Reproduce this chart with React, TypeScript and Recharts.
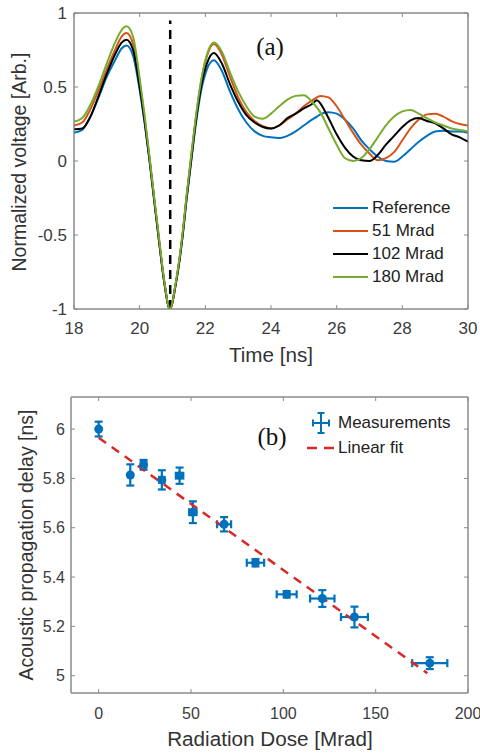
import React from 'react';
import { LineChart, Line, XAxis, YAxis, ReferenceLine, ReferenceArea, ScatterChart, Scatter, ErrorBar } from 'recharts';

const FONT = '"Liberation Sans", Arial, sans-serif';
const SERIF = '"Liberation Serif", "Times New Roman", serif';
const AXIS = '#8a8a8a';
const TICK = '#3c3c3c';

// (a) normalized waveforms
const TIME = [18, 18.25, 18.5, 18.75, 19, 19.25, 19.45, 19.6, 19.8, 20, 20.15, 20.3, 20.45, 20.6, 20.75, 20.92, 21.1, 21.3, 21.43, 21.56, 21.7, 21.86, 22.05, 22.26, 22.5, 22.75, 23, 23.25, 23.5, 23.75, 24, 24.25, 24.5, 24.75, 25, 25.25, 25.4, 25.5, 25.75, 26, 26.25, 26.5, 26.75, 27, 27.25, 27.5, 27.75, 28, 28.25, 28.5, 28.75, 29, 29.25, 29.5, 29.75, 30];
const REF = [0.19, 0.21, 0.3, 0.43, 0.57, 0.68, 0.76, 0.78, 0.71, 0.48, 0.26, 0.0, -0.28, -0.56, -0.82, -1.0, -0.83, -0.52, -0.26, -0.02, 0.23, 0.46, 0.62, 0.68, 0.61, 0.47, 0.35, 0.26, 0.2, 0.17, 0.16, 0.155, 0.17, 0.2, 0.24, 0.28, 0.3, 0.315, 0.33, 0.32, 0.28, 0.22, 0.14, 0.08, 0.03, 0.0, -0.005, 0.03, 0.08, 0.13, 0.17, 0.2, 0.205, 0.2, 0.2, 0.19];
const M51 = [0.24, 0.26, 0.35, 0.48, 0.62, 0.75, 0.84, 0.865, 0.79, 0.53, 0.29, 0.02, -0.27, -0.55, -0.82, -1.0, -0.83, -0.51, -0.24, 0.01, 0.27, 0.52, 0.71, 0.79, 0.72, 0.57, 0.43, 0.33, 0.27, 0.235, 0.22, 0.24, 0.28, 0.32, 0.37, 0.41, 0.43, 0.44, 0.43, 0.37, 0.28, 0.19, 0.11, 0.05, 0.005, 0.02, 0.06, 0.14, 0.22, 0.28, 0.315, 0.32, 0.3, 0.27, 0.25, 0.24];
const M102 = [0.215, 0.22, 0.3, 0.44, 0.59, 0.72, 0.8, 0.82, 0.75, 0.5, 0.27, 0.01, -0.28, -0.56, -0.82, -1.0, -0.83, -0.52, -0.25, -0.01, 0.25, 0.49, 0.66, 0.73, 0.66, 0.52, 0.4, 0.31, 0.26, 0.23, 0.22, 0.24, 0.29, 0.32, 0.355, 0.385, 0.41, 0.39, 0.29, 0.18, 0.09, 0.03, 0.005, 0.0, 0.04, 0.11, 0.17, 0.23, 0.275, 0.29, 0.27, 0.255, 0.22, 0.18, 0.16, 0.13];
const M180 = [0.265, 0.29, 0.38, 0.51, 0.66, 0.8, 0.885, 0.91, 0.84, 0.56, 0.31, 0.03, -0.26, -0.54, -0.81, -1.0, -0.82, -0.5, -0.23, 0.02, 0.28, 0.53, 0.72, 0.8, 0.74, 0.6, 0.47, 0.37, 0.3, 0.285, 0.32, 0.37, 0.415, 0.44, 0.445, 0.4, 0.36, 0.33, 0.22, 0.11, 0.02, 0.0, 0.02, 0.08, 0.16, 0.24, 0.3, 0.335, 0.345, 0.32, 0.29, 0.26, 0.24, 0.22, 0.21, 0.2];
const TIME_TICKS = [18, 20, 22, 24, 26, 28, 30];
const VOLT_TICKS = [-1, -0.5, 0, 0.5, 1];
const MARKER_T = 20.93;

const SERIES = [
  { key: 'ref', name: 'Reference', color: '#0072BD', values: REF },
  { key: 'm51', name: '51 Mrad', color: '#D95319', values: M51 },
  { key: 'm102', name: '102 Mrad', color: '#000000', values: M102 },
  { key: 'm180', name: '180 Mrad', color: '#77AC30', values: M180 },
];

// (b) propagation delay vs dose
const DOSE = [0, 17.1, 24.3, 34.2, 43.8, 51.0, 67.9, 84.9, 101.8, 121.1, 138.5, 179.3];
const DOSE_ERR = [0, 0, 1.5, 1.5, 2, 2, 3.8, 4.7, 5.4, 6.6, 7.3, 9.5];
const DELAY = [6.0, 5.814, 5.855, 5.794, 5.811, 5.663, 5.614, 5.458, 5.33, 5.313, 5.238, 5.051];
const DELAY_ERR = [0.03, 0.043, 0.02, 0.039, 0.033, 0.044, 0.029, 0.015, 0.013, 0.034, 0.042, 0.024];
const FIT_DOSE = [0, 178];
const FIT_DELAY = [5.965, 5.01];
const DOSE_TICKS = [0, 50, 100, 150, 200];
const DELAY_TICKS = [5, 5.2, 5.4, 5.6, 5.8, 6];

const BLUE = '#0072BD';
const RED = '#D62A2A';

const waveRows = TIME.map((t, i) => {
  const row: Record<string, number> = { t };
  SERIES.forEach(s => { row[s.key] = s.values[i]; });
  return row;
});

const points = DOSE.map((d, i) => ({ dose: d, delay: DELAY[i], ex: DOSE_ERR[i], ey: DELAY_ERR[i] }));

const tickTop = { fill: TICK, fontSize: 17, fontFamily: FONT };
const tickBottom = { fill: TICK, fontSize: 16, fontFamily: FONT };

function Text({ x, y, size, rotate, serif, children }: { x: number; y: number; size: number; rotate?: boolean; serif?: boolean; children: React.ReactNode }) {
  return (
    <div style={{
      position: 'absolute', left: x, top: y, whiteSpace: 'nowrap', lineHeight: 1,
      transform: `translate(-50%, -50%)${rotate ? ' rotate(-90deg)' : serif ? '' : ' scaleX(1.06)'}`,
      fontFamily: serif ? SERIF : FONT, fontSize: size, color: serif ? '#111' : '#333',
    }}>{children}</div>
  );
}

const Dot = (p: any) => <circle cx={p.cx} cy={p.cy} r={4.5} fill={BLUE} />;
const NoDot = () => <g />;
const NoTick = () => <g />;

export default function App() {
  return (
    <div style={{ position: 'absolute', left: 0, top: 0, width: 480, height: 753, background: '#fff', overflow: 'hidden' }}>
      <div style={{ position: 'absolute', left: 0, top: 0 }}>
        <LineChart width={480} height={380} data={waveRows} margin={{ top: 12, right: 11, bottom: 41, left: 24 }}>
          <XAxis dataKey="t" type="number" domain={[18, 30]} ticks={TIME_TICKS} allowDataOverflow height={30}
            stroke={AXIS} tickSize={-4} tickMargin={17} tick={tickTop} />
          <XAxis xAxisId="top" dataKey="t" orientation="top" type="number" domain={[18, 30]} ticks={TIME_TICKS} allowDataOverflow
            height={1} stroke={AXIS} tickSize={-4} tick={NoTick} />
          <YAxis type="number" domain={[-1, 1]} ticks={VOLT_TICKS} allowDataOverflow width={50}
            stroke={AXIS} tickSize={-4} tickMargin={11} tick={tickTop} />
          <YAxis yAxisId="right" orientation="right" type="number" domain={[-1, 1]} ticks={VOLT_TICKS} allowDataOverflow
            width={1} stroke={AXIS} tickSize={-4} tick={NoTick} />
          {/* invisible series so the box axes (top / right) get drawn */}
          <Line xAxisId="top" yAxisId="right" dataKey="ref" stroke="none" dot={false} activeDot={false} legendType="none" isAnimationActive={false} />
          <ReferenceArea x1={18} x2={30} y1={-1} y2={1} fill="none" stroke={AXIS} strokeWidth={1} ifOverflow="visible" />
          <ReferenceLine segment={[{ x: MARKER_T, y: -1 }, { x: MARKER_T, y: 0.95 }]} stroke="#000" strokeWidth={2.5} strokeDasharray="9 6" />
          {SERIES.map(s => (
            <Line key={s.key} dataKey={s.key} type="monotone" stroke={s.color} strokeWidth={2} dot={false} isAnimationActive={false} />
          ))}
        </LineChart>
      </div>
      <Text x={270} y={46} size={25} serif>(a)</Text>
      <Text x={20} y={162} size={19.5} rotate>Normalized voltage [Arb.]</Text>
      <Text x={271} y={356} size={19.5}>Time [ns]</Text>
      {SERIES.map((s, i) => (
        <div key={s.key} style={{ position: 'absolute', left: 333, top: 208 + i * 23 - 10, height: 20, display: 'flex', alignItems: 'center', fontFamily: FONT, fontSize: 17, color: '#222' }}>
          <div style={{ width: 35, height: 2.5, background: s.color, marginRight: 4 }} />
          {s.name}
        </div>
      ))}

      <div style={{ position: 'absolute', left: 0, top: 380 }}>
        <ScatterChart width={480} height={373} margin={{ top: 16, right: 11, bottom: 30, left: 21 }}>
          <XAxis dataKey="dose" type="number" domain={[-15, 200]} ticks={DOSE_TICKS} allowDataOverflow height={30}
            stroke={AXIS} tickSize={-4} tickMargin={19} tick={tickBottom} />
          <XAxis xAxisId="top" dataKey="dose" orientation="top" type="number" domain={[-15, 200]} ticks={DOSE_TICKS} allowDataOverflow
            height={1} stroke={AXIS} tickSize={-4} tick={NoTick} />
          <YAxis dataKey="delay" type="number" domain={[4.93, 6.13]} ticks={DELAY_TICKS} allowDataOverflow width={50}
            stroke={AXIS} tickSize={-4} tickMargin={10} tick={tickBottom} />
          <YAxis yAxisId="right" dataKey="delay" orientation="right" type="number" domain={[4.93, 6.13]} ticks={DELAY_TICKS} allowDataOverflow
            width={1} stroke={AXIS} tickSize={-4} tick={NoTick} />
          <Scatter xAxisId="top" yAxisId="right" data={points} shape={NoDot} legendType="none" isAnimationActive={false} />
          <ReferenceArea x1={-15} x2={200} y1={4.93} y2={6.13} fill="none" stroke={AXIS} strokeWidth={1} ifOverflow="visible" />
          <Scatter data={points} fill={BLUE} shape={Dot} isAnimationActive={false}>
            <ErrorBar dataKey="ey" direction="y" width={4} stroke={BLUE} strokeWidth={2.2} />
            <ErrorBar dataKey="ex" direction="x" width={4} stroke={BLUE} strokeWidth={2.2} />
          </Scatter>
          <ReferenceLine segment={[{ x: FIT_DOSE[0], y: FIT_DELAY[0] }, { x: FIT_DOSE[1], y: FIT_DELAY[1] }]}
            stroke={RED} strokeWidth={2.5} strokeDasharray="9 7" />
        </ScatterChart>
      </div>
      <Text x={272} y={436} size={25} serif>(b)</Text>
      <Text x={27} y={545} size={19.5} rotate>Acoustic propagation delay [ns]</Text>
      <Text x={270} y={740} size={19.5}>Radiation Dose [Mrad]</Text>
      <div style={{ position: 'absolute', left: 305, top: 413, height: 20, display: 'flex', alignItems: 'center', fontFamily: FONT, fontSize: 17, color: '#222' }}>
        <svg width={31} height={22} style={{ marginRight: 2 }}>
          <g stroke={BLUE} strokeWidth={2}>
            <line x1={16} y1={1} x2={16} y2={21} />
            <line x1={12.5} y1={1} x2={19.5} y2={1} />
            <line x1={12.5} y1={21} x2={19.5} y2={21} />
            <line x1={8} y1={11} x2={24} y2={11} />
            <line x1={8} y1={7.5} x2={8} y2={14.5} />
            <line x1={24} y1={7.5} x2={24} y2={14.5} />
          </g>
        </svg>
        Measurements
      </div>
      <div style={{ position: 'absolute', left: 305, top: 438, height: 20, display: 'flex', alignItems: 'center', fontFamily: FONT, fontSize: 17, color: '#222' }}>
        <svg width={31} height={10} style={{ marginRight: 2 }}>
          <line x1={2} y1={5} x2={30} y2={5} stroke={RED} strokeWidth={2.5} strokeDasharray="10 7" />
        </svg>
        Linear fit
      </div>
    </div>
  );
}
